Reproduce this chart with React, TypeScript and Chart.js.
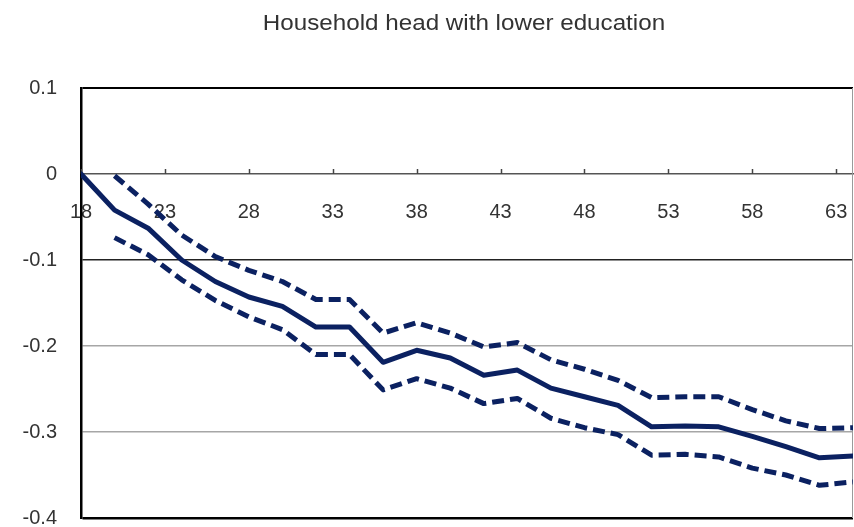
import React, { useEffect, useRef } from "react";
import { Chart, registerables } from "chart.js";

Chart.register(...registerables);

// Age of household head (every two years)
const ages = [18, 20, 22, 24, 26, 28, 30, 32, 34, 36, 38, 40, 42, 44, 46, 48, 50, 52, 54, 56, 58, 60, 62, 64];

// Point estimate
const estimate = [0, -0.042, -0.063, -0.1, -0.125, -0.143, -0.154, -0.178, -0.178, -0.219, -0.205, -0.214, -0.234, -0.228, -0.249, -0.259, -0.269, -0.294, -0.293, -0.294, -0.305, -0.317, -0.33, -0.328];

// Confidence band (no band at the reference age)
const upperBound = [null, -0.002, -0.035, -0.071, -0.096, -0.112, -0.125, -0.146, -0.146, -0.185, -0.173, -0.185, -0.201, -0.196, -0.216, -0.227, -0.24, -0.26, -0.259, -0.259, -0.274, -0.287, -0.296, -0.295];
const lowerBound = [null, -0.074, -0.094, -0.123, -0.147, -0.166, -0.181, -0.21, -0.21, -0.251, -0.238, -0.249, -0.267, -0.261, -0.284, -0.295, -0.303, -0.327, -0.326, -0.329, -0.342, -0.35, -0.362, -0.358];

const xTickLabels = [18, 23, 28, 33, 38, 43, 48, 53, 58, 63];
const yTickValues = [0.1, 0, -0.1, -0.2, -0.3, -0.4];

const titleText = "Household head with lower education";

const NAVY = "#0b2161";
const FONT = "'Liberation Sans', Arial, sans-serif";

const toPoints = (vals: (number | null)[]) =>
  ages
    .map((a, i) => ({ x: a, y: vals[i] }))
    .filter((p) => p.y !== null) as { x: number; y: number }[];

const titlePlugin = {
  id: "centeredTitle",
  afterDraw(chart: any) {
    const { ctx, chartArea } = chart;
    const cx = (chartArea.left + chartArea.right) / 2 - 3;
    ctx.save();
    ctx.font = `22px ${FONT}`;
    ctx.fillStyle = "#333";
    ctx.textAlign = "center";
    ctx.textBaseline = "alphabetic";
    ctx.translate(cx, 30);
    ctx.scale(1.1, 1);
    ctx.fillText(titleText, 0, 0);
    ctx.restore();
  },
};

const framePlugin = {
  id: "frameAndTicks",
  beforeDatasetsDraw(chart: any) {
    const { ctx, chartArea } = chart;
    const xs = chart.scales.x;
    const ys = chart.scales.y;
    const y0 = ys.getPixelForValue(0);
    ctx.save();
    // right frame edge
    ctx.strokeStyle = "#9a9a9a";
    ctx.lineWidth = 1;
    ctx.beginPath();
    ctx.moveTo(chartArea.right - 0.5, chartArea.top);
    ctx.lineTo(chartArea.right - 0.5, chartArea.bottom);
    ctx.stroke();
    // small tick marks rising from the zero axis
    ctx.strokeStyle = "#444";
    ctx.lineWidth = 1.5;
    xTickLabels.forEach((v) => {
      const px = Math.round(xs.getPixelForValue(v)) + 0.5;
      ctx.beginPath();
      ctx.moveTo(px, y0);
      ctx.lineTo(px, y0 - 5);
      ctx.stroke();
    });
    ctx.restore();
  },
};

export default function App() {
  const ref = useRef<HTMLCanvasElement | null>(null);

  useEffect(() => {
    if (!ref.current) return;
    const lineBase = {
      borderColor: NAVY,
      backgroundColor: NAVY,
      borderWidth: 5,
      pointRadius: 0,
      tension: 0,
      fill: false,
      borderJoinStyle: "round" as const,
    };
    const chart = new Chart(ref.current, {
      type: "line",
      data: {
        datasets: [
          { ...lineBase, label: "Upper", data: toPoints(upperBound), borderDash: [12, 6] },
          { ...lineBase, label: "Estimate", data: toPoints(estimate), borderCapStyle: "round" },
          { ...lineBase, label: "Lower", data: toPoints(lowerBound), borderDash: [12, 6] },
        ],
      },
      options: {
        responsive: false,
        animation: false,
        layout: { padding: { top: 88, bottom: 9, right: 1, left: 0 } },
        plugins: {
          legend: { display: false },
          tooltip: { enabled: false },
          title: { display: false },
        },
        scales: {
          x: {
            type: "linear",
            min: 18,
            max: 64,
            position: { y: 0 } as any,
            afterBuildTicks: (scale: any) => {
              scale.ticks = xTickLabels.map((v) => ({ value: v }));
            },
            afterFit: (scale: any) => {
              // the axis sits inside the plot at y = 0, so it claims no margin
              scale.height = 0;
              scale.paddingLeft = 0;
              scale.paddingRight = 0;
              scale.paddingTop = 0;
              scale.paddingBottom = 0;
            },
            grid: { display: true, color: "rgba(0,0,0,0)", drawTicks: false },
            border: { display: true, color: "#555", width: 1.5 },
            ticks: {
              padding: 26,
              autoSkip: false,
              maxRotation: 0,
              color: "#333",
              font: { size: 20, family: FONT },
              callback: (v: any) => String(v),
            },
          },
          y: {
            type: "linear",
            min: -0.4,
            max: 0.1,
            afterBuildTicks: (scale: any) => {
              scale.ticks = yTickValues.map((v) => ({ value: v }));
            },
            afterFit: (scale: any) => {
              scale.width = 81;
              scale.paddingTop = 0;
              scale.paddingBottom = 0;
            },
            grid: {
              drawTicks: false,
              color: (c: any) => {
                const v = Math.round((c.tick?.value ?? 0) * 10) / 10;
                if (v === 0) return "rgba(0,0,0,0)";
                if (v === 0.1 || v === -0.4) return "#000";
                if (v === -0.1) return "#222";
                return "#a6a6a6";
              },
              lineWidth: (c: any) => {
                const v = Math.round((c.tick?.value ?? 0) * 10) / 10;
                if (v === -0.4) return 2.5;
                if (v === 0.1) return 2;
                return 1.5;
              },
            },
            border: { display: true, color: "#000", width: 2.5 },
            ticks: {
              padding: 24,
              color: "#333",
              font: { size: 20, family: FONT },
              callback: (v: any) => String(Number(Number(v).toFixed(1)) || 0),
            },
          },
        },
      },
      plugins: [framePlugin, titlePlugin],
    });
    return () => chart.destroy();
  }, []);

  return (
    <div style={{ position: "absolute", left: 0, top: 0, width: 854, height: 527, background: "#fff" }}>
      <canvas ref={ref} width={854} height={527} style={{ display: "block" }} />
    </div>
  );
}
